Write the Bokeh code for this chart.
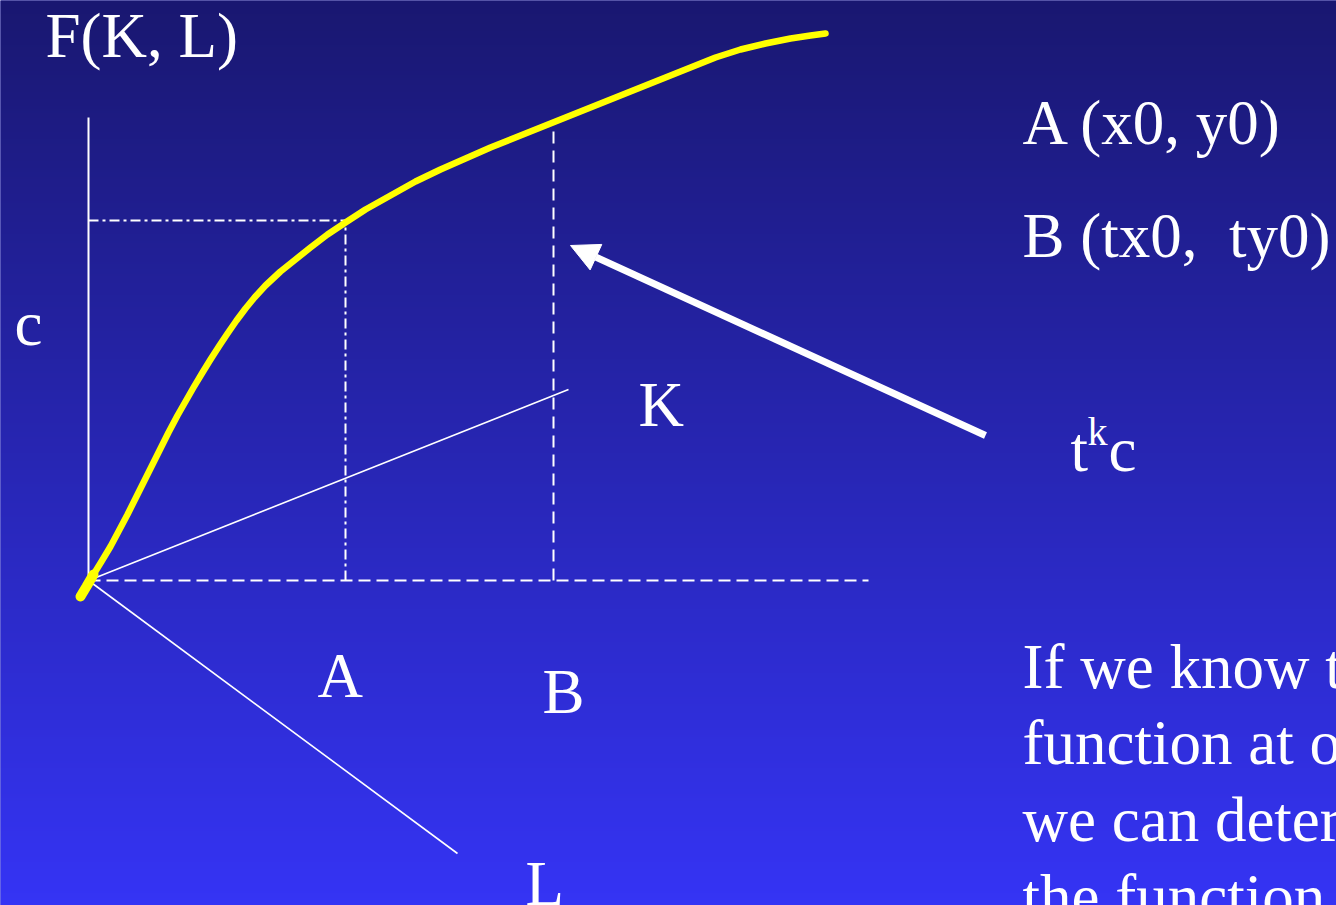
import numpy as np
from bokeh.plotting import figure
from bokeh.models import Range1d, Arrow, NormalHead
from bokeh.core.properties import value
from bokeh.embed import file_html
from bokeh.resources import INLINE

# ---- diagram data (origin of the axes at (0, 0)) ----
curve_x = [-8, -2, 5, 13, 22, 30, 39, 47, 55, 64, 72, 80, 89, 97, 105, 114, 122,
           131, 139, 148, 157, 166, 177, 192, 207, 222, 239, 257, 277, 302, 327,
           352, 377, 402, 427, 452, 477, 502, 527, 552, 577, 602, 627, 652, 677,
           702, 722, 737]
curve_y = [-16, -6, 6, 19, 34, 49, 66, 82, 98, 116, 132, 148, 165, 179, 193, 208, 221,
           235, 247, 260, 272, 283, 295, 309, 321, 333, 346, 358, 371, 385, 399,
           411, 422, 433, 443, 453, 463, 473, 483, 493, 503, 513, 523, 531, 537,
           542, 545, 547]
point_A_x = 257          # A on the horizontal axis
point_B_x = 465          # B on the horizontal axis
level_c = 360            # output level c at A
level_B = 452            # curve height above B
v_axis_top = 463
h_axis_end = 780
K_axis_end = (480, 191)
L_axis_end = (369, -273)
arrow_start = (897, 145)
arrow_end = (482, 335)

title_label = "F(K, L)"
level_label = "c"
axis_labels = ["K", "L", "A", "B"]
point_labels = ["A (x0, y0)", "B (tx0,\u00a0 ty0)"]
scale_label = ["t", "k", "c"]
note_lines = ["If we know the", "function at one point,", "we can determine", "the function along the ray"]

# ---- figure ----
W, H = 1336, 905
X0, X1 = -88, 1248
Y0, Y1 = -325, 580
p = figure(width=W, height=H, x_range=Range1d(X0, X1), y_range=Range1d(Y0, Y1),
           output_backend="svg", toolbar_location=None, min_border=0)
p.axis.visible = False
p.grid.visible = False
p.outline_line_color = None
p.background_fill_color = "#2828c0"
p.border_fill_color = "#2828c0"

# background vertical gradient
top = np.array([25, 23, 110], dtype=float)
bot = np.array([54, 53, 248], dtype=float)
n = 400
t = np.linspace(0, 1, n)[:, None]       # row 0 = bottom
cols = top + (bot - top) * (1 - t)
img = np.zeros((n, 4), dtype=np.uint32)
view = img.view(dtype=np.uint8).reshape((n, 4, 4))
for c in range(4):
    view[:, c, 0] = cols[:, 0].astype(np.uint8)
    view[:, c, 1] = cols[:, 1].astype(np.uint8)
    view[:, c, 2] = cols[:, 2].astype(np.uint8)
    view[:, c, 3] = 255
pad = 20
p.image_rgba(image=[img], x=X0 - pad, y=Y0 - pad, dw=X1 - X0 + 2 * pad, dh=Y1 - Y0 + 2 * pad)

white = "white"
# axes
p.line([0, 0], [0, v_axis_top], line_color=white, line_width=2)
p.line([0, h_axis_end], [0, 0], line_color=white, line_width=2, line_dash="12 6")
p.line([0, K_axis_end[0]], [0, K_axis_end[1]], line_color=white, line_width=1.6)
p.line([0, L_axis_end[0]], [0, L_axis_end[1]], line_color=white, line_width=1.6)

# guides
p.line([0, point_A_x], [level_c, level_c], line_color=white, line_width=2, line_dash="10 4 3 4")
p.line([point_A_x, point_A_x], [0, level_c], line_color=white, line_width=2, line_dash="10 4 3 4")
p.line([point_B_x, point_B_x], [0, level_B], line_color=white, line_width=2, line_dash="12 7")

# production curve (thicker brush stroke at its start)
p.line(curve_x[:3], curve_y[:3], line_color="#ffff00", line_width=10, line_cap="round")
p.line(curve_x, curve_y, line_color="#ffff00", line_width=6.5, line_join="round", line_cap="round")

# arrow
p.add_layout(Arrow(end=NormalHead(size=28, fill_color=white, line_color=white, line_width=1),
                   x_start=arrow_start[0], y_start=arrow_start[1],
                   x_end=arrow_end[0], y_end=arrow_end[1],
                   line_color=white, line_width=7))

font = value("Liberation Serif")
fs = "63px"
dy = 19  # baseline correction

def txt(x, y, s, size=fs):
    p.text(x=[x], y=[y + dy], text=[s], text_font=font, text_font_size=size,
           text_color=white, text_align="left", text_baseline="alphabetic")

txt(-43, 526, title_label)
txt(-74, 238, level_label)
txt(550, 157, axis_labels[0])
txt(437, -322, axis_labels[1])
txt(229, -114, axis_labels[2])
txt(454, -130, axis_labels[3])
txt(934, 439, point_labels[0])
txt(934, 326, point_labels[1])
txt(982, 112, scale_label[0])
txt(999, 130, scale_label[1], "40px")
txt(1020, 112, scale_label[2])
for i, line in enumerate(note_lines):
    txt(934, -105 - 76.7 * i, line)

open("out.html", "w").write(file_html(p, INLINE))
